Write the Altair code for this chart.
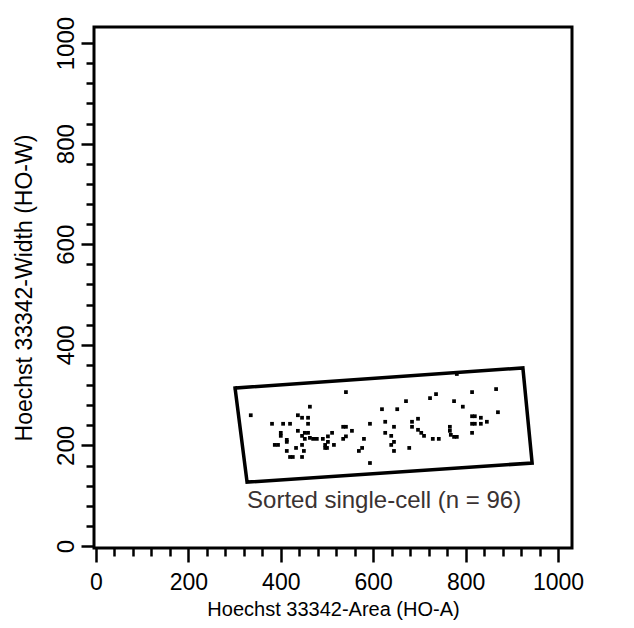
import altair as alt
import pandas as pd

# Sorted single cells: Hoechst 33342 area (HO-A) and width (HO-W)
cell_area = [335, 381, 405, 420, 437, 446, 459, 459, 463, 400, 400, 437, 452, 459, 446,
             452, 463, 470, 478, 491, 413, 413, 387, 394, 446, 433, 413, 450, 420, 426,
             446, 541, 593, 535, 541, 554, 511, 502, 535, 541, 580, 502, 496, 500, 496,
             515, 576, 569, 593, 671, 723, 736, 619, 652, 626, 684, 697, 645, 684, 697,
             704, 710, 626, 639, 645, 639, 645, 678, 729, 742, 766, 766, 768, 775, 781,
             775, 794, 814, 866, 814, 820, 833, 846, 870, 814, 820, 833, 814, 781]
cell_width = [260, 243, 243, 243, 260, 255, 255, 243, 277, 225, 219, 229, 225, 225, 219,
              213, 215, 213, 213, 213, 211, 207, 201, 201, 201, 195, 189, 189, 177, 177,
              177, 306, 243, 237, 237, 229, 225, 218, 213, 218, 213, 207, 201, 195, 195,
              201, 195, 189, 165, 288, 294, 302, 272, 272, 247, 247, 253, 237, 237, 231,
              225, 219, 225, 219, 207, 201, 189, 195, 213, 213, 237, 229, 221, 217, 217,
              288, 277, 306, 312, 258, 258, 255, 247, 266, 243, 243, 243, 225, 342]

# Sort gate polygon (closed)
gate_area = [301, 924, 944, 327, 301]
gate_width = [314, 354, 165, 127, 314]
gate_order = [0, 1, 2, 3, 4]

gate_label = ["Sorted single-cell (n = 96)"]
gate_label_area = [327]
gate_label_width = [75]

tick_values = list(range(0, 1001, 40))

FONT = "Liberation Sans"

cells = pd.DataFrame({"area": cell_area, "width": cell_width})
gate = pd.DataFrame({"area": gate_area, "width": gate_width, "idx": gate_order})
label = pd.DataFrame({"area": gate_label_area, "width": gate_label_width, "text": gate_label})

xscale = alt.Scale(domain=[-4.3, 1030.3], nice=False, zero=False)
yscale = alt.Scale(domain=[-4, 1032], nice=False, zero=False)

major = "datum.value % 200 === 0"

xaxis = alt.Axis(
    title="Hoechst 33342-Area (HO-A)",
    values=tick_values,
    format="d",
    labelExpr=f"{major} ? datum.label : ''",
    tickSize={"condition": {"test": major, "value": 14}, "value": 8},
    labelPadding=9,
    labelFontSize=23,
    titleFontSize=20,
    titlePadding=5,
    labelOverlap=False,
    labelFlush=False,
)
yaxis = alt.Axis(
    title="Hoechst 33342-Width (HO-W)",
    values=tick_values,
    format="d",
    labelExpr=f"{major} ? datum.label : ''",
    tickSize={"condition": {"test": major, "value": 13}, "value": 8},
    labelAngle=270,
    labelAlign="center",
    labelBaseline="bottom",
    labelPadding=3,
    labelFontSize=24,
    titleFontSize=23,
    titlePadding=18,
    labelOverlap=False,
    labelFlush=False,
)

X = alt.X("area:Q", scale=xscale, axis=xaxis)
Y = alt.Y("width:Q", scale=yscale, axis=yaxis)

points = alt.Chart(cells).mark_square(size=14, color="black", opacity=1).encode(x=X, y=Y)

gate_line = alt.Chart(gate).mark_line(
    color="black", strokeWidth=3.5, strokeJoin="miter", strokeCap="square"
).encode(x=X, y=Y, order="idx:Q")

gate_text = alt.Chart(label).mark_text(
    align="left", baseline="alphabetic", fontSize=24, font=FONT, color="#3a3232"
).encode(x=X, y=Y, text="text:N")

chart = (
    alt.layer(points, gate_line, gate_text)
    .properties(
        width=478,
        height=521,
        autosize=alt.AutoSizeParams(type="none"),
        padding={"left": 86, "top": 19, "right": 54, "bottom": 80},
    )
    .configure_view(stroke="black", strokeWidth=3)
    .configure_axis(
        domain=False,
        grid=False,
        tickColor="black",
        tickWidth=2.5,
        labelColor="black",
        titleColor="black",
        labelFont=FONT,
        titleFont=FONT,
        titleFontWeight="normal",
    )
)

chart.save("out.html", embed_options={"renderer": "svg", "actions": False})
